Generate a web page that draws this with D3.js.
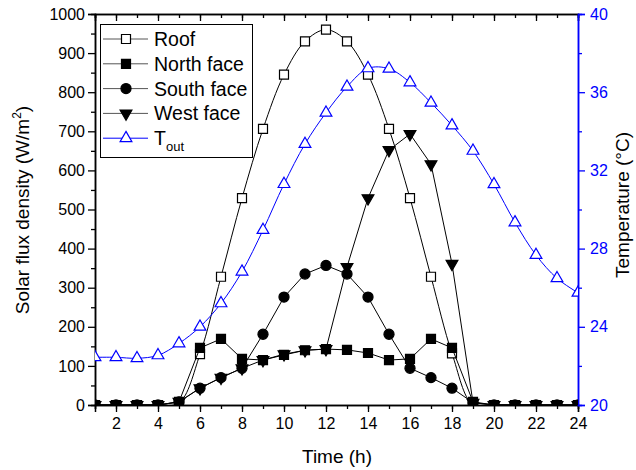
<!DOCTYPE html>
<meta charset="utf-8">
<style>
  body { margin: 0; background: #fff; }
  svg text { font-family: Arial, "Liberation Sans", Helvetica, sans-serif; }
</style>
<svg width="636" height="470" font-family="Arial, 'Liberation Sans', Helvetica, sans-serif"></svg>
<script src="https://d3js.org/d3.v7.min.js"></script>
<script>
  var hours = d3.range(1, 25);
  var roof  = [0, 0, 0, 0, 5, 130, 328, 529, 706, 845, 930, 960, 930, 845, 706, 529, 328, 132, 0, 0, 0, 0, 0, 0];
  var north = [0, 0, 0, 0, 8, 146, 169, 118, 115, 128, 140, 143, 141, 133, 115, 118, 169, 146, 8, 0, 0, 0, 0, 0];
  var south = [0, 0, 0, 0, 8, 43, 70, 94, 181, 276, 335, 357, 335, 276, 181, 94, 70, 43, 6, 0, 0, 0, 0, 0];
  var west  = [0, 0, 0, 0, 8, 43, 70, 94, 115, 130, 140, 143, 353, 529, 652, 693, 616, 361, 6, 0, 0, 0, 0, 0];
  var tout  = [22.44, 22.44, 22.39, 22.54, 23.15, 24.0, 25.2, 26.82, 28.95, 31.3, 33.35, 34.95, 36.28, 37.22, 37.2, 36.5, 35.46, 34.3, 33.0, 31.29, 29.34, 27.67, 26.48, 25.74];
  var xTicks = [2, 4, 6, 8, 10, 12, 14, 16, 18, 20, 22, 24];
  var yTicks = d3.range(0, 1001, 100);
  var tTicks = [20, 24, 28, 32, 36, 40];
  var legendNames = ["Roof", "North face", "South face", "West face", "T"];

  var svg = d3.select("svg");
  var font = "Arial, 'Liberation Sans', Helvetica, sans-serif";
  var blue = "#0000ff";
  var x = d3.scaleLinear().domain([1, 24]).range([95, 578]);
  var y = d3.scaleLinear().domain([0, 1000]).range([405, 14]);
  var yt = d3.scaleLinear().domain([20, 40]).range([405, 14]);

  svg.append("clipPath").attr("id", "plot")
    .append("rect").attr("x", 95).attr("y", 14).attr("width", 483).attr("height", 391);

  // axes
  svg.append("g").attr("transform", "translate(0,405)")
    .call(d3.axisBottom(x).tickValues(d3.range(1, 25)).tickSize(4).tickFormat(""));
  svg.append("g").attr("transform", "translate(0,405)")
    .call(d3.axisBottom(x).tickValues(xTicks).tickSize(7).tickPadding(6))
    .call(g => g.selectAll("text").attr("font-size", 16).attr("fill", "#000"));
  svg.append("g").attr("transform", "translate(0,14)")
    .call(d3.axisTop(x).tickValues(d3.range(1, 25)).tickSize(-4).tickFormat(""));
  svg.append("g").attr("transform", "translate(0,14)")
    .call(d3.axisTop(x).tickValues(xTicks).tickSize(-7).tickFormat(""));
  svg.append("g").attr("transform", "translate(95,0)")
    .call(d3.axisLeft(y).tickValues(d3.range(50, 1000, 100)).tickSize(4).tickFormat(""));
  svg.append("g").attr("transform", "translate(95,0)")
    .call(d3.axisLeft(y).tickValues(yTicks).tickSize(7).tickPadding(3).tickFormat(d3.format("d")))
    .call(g => g.selectAll("text").attr("font-size", 16).attr("fill", "#000"));
  svg.append("g").attr("class", "tax").attr("transform", "translate(578,0)")
    .call(d3.axisRight(yt).tickValues([22, 26, 30, 34, 38]).tickSize(4).tickFormat(""));
  svg.append("g").attr("class", "tax").attr("transform", "translate(578,0)")
    .call(d3.axisRight(yt).tickValues(tTicks).tickSize(7).tickPadding(5))
    .call(g => g.selectAll("text").attr("font-size", 16).attr("fill", blue));
  svg.selectAll("g").attr("font-family", font);
  svg.selectAll("g .domain").attr("stroke-width", 1.5);
  svg.selectAll("g .tick line").attr("stroke-width", 1.3);
  svg.selectAll("g.tax .domain, g.tax .tick line").attr("stroke", blue);

  // titles
  svg.append("text").attr("x", 337).attr("y", 463).attr("text-anchor", "middle")
    .attr("font-size", 19).text("Time (h)");
  var lt = svg.append("text").attr("transform", "translate(29,210) rotate(-90)")
    .attr("text-anchor", "middle").attr("font-size", 19);
  lt.append("tspan").text("Solar flux density (W/m");
  lt.append("tspan").attr("font-size", 12).attr("dy", -8).text("2");
  lt.append("tspan").attr("dy", 8).text(")");
  svg.append("text").attr("transform", "translate(629,205) rotate(-90)")
    .attr("text-anchor", "middle").attr("font-size", 19).text("Temperature (\u00b0C)");

  var smooth = d3.line().x((d, i) => x(hours[i])).y(d => y(d)).curve(d3.curveCatmullRom.alpha(0.5));
  var straight = d3.line().x((d, i) => x(hours[i])).y(d => y(d));
  var smoothT = d3.line().x((d, i) => x(hours[i])).y(d => yt(d)).curve(d3.curveCatmullRom.alpha(0.5));

  var sq = d3.symbol().type(d3.symbolSquare).size(81);
  var ci = d3.symbol().type(d3.symbolCircle).size(80);
  var tri = d3.symbol().type(d3.symbolTriangle).size(60);

  var series = [
    { v: roof, line: smooth, sym: sq, fill: "#fff", stroke: "#000", rot: 0, sc: y },
    { v: north, line: straight, sym: sq, fill: "#000", stroke: "#000", rot: 0, sc: y },
    { v: south, line: straight, sym: ci, fill: "#000", stroke: "#000", rot: 0, sc: y },
    { v: west, line: straight, sym: tri, fill: "#000", stroke: "#000", rot: 180, sc: y },
    { v: tout, line: smoothT, sym: tri, fill: "#fff", stroke: blue, rot: 0, sc: yt }
  ];

  var plot = svg.append("g").attr("clip-path", "url(#plot)");
  series.forEach(function(s) {
    plot.append("path").attr("d", s.line(s.v)).attr("fill", "none")
      .attr("stroke", s.stroke).attr("stroke-width", 1);
    plot.selectAll(null).data(s.v).enter().append("path")
      .attr("d", s.sym)
      .attr("transform", (d, i) => "translate(" + x(hours[i]) + "," + s.sc(d) + ") rotate(" + s.rot + ")")
      .attr("fill", s.fill).attr("stroke", s.stroke).attr("stroke-width", 1.2);
  });

  // legend
  var lg = svg.append("g");
  lg.append("rect").attr("x", 100.5).attr("y", 24.5).attr("width", 152).attr("height", 133)
    .attr("fill", "#fff").attr("stroke", "#000").attr("stroke-width", 1);
  series.forEach(function(s, i) {
    var cy = 39 + i * 24.8;
    lg.append("line").attr("x1", 103).attr("x2", 148).attr("y1", cy).attr("y2", cy)
      .attr("stroke", s.stroke === blue ? blue : "#555").attr("stroke-width", 1);
    lg.append("path").attr("d", s.sym)
      .attr("transform", "translate(126," + cy + ") rotate(" + s.rot + ")")
      .attr("fill", s.fill).attr("stroke", s.stroke).attr("stroke-width", 1.2);
    var t = lg.append("text").attr("x", 154).attr("y", cy + 7).attr("font-size", 19.5).text(legendNames[i]);
    if (i === 4) t.append("tspan").attr("font-size", 13).attr("dy", 6).text("out");
  });
</script>
